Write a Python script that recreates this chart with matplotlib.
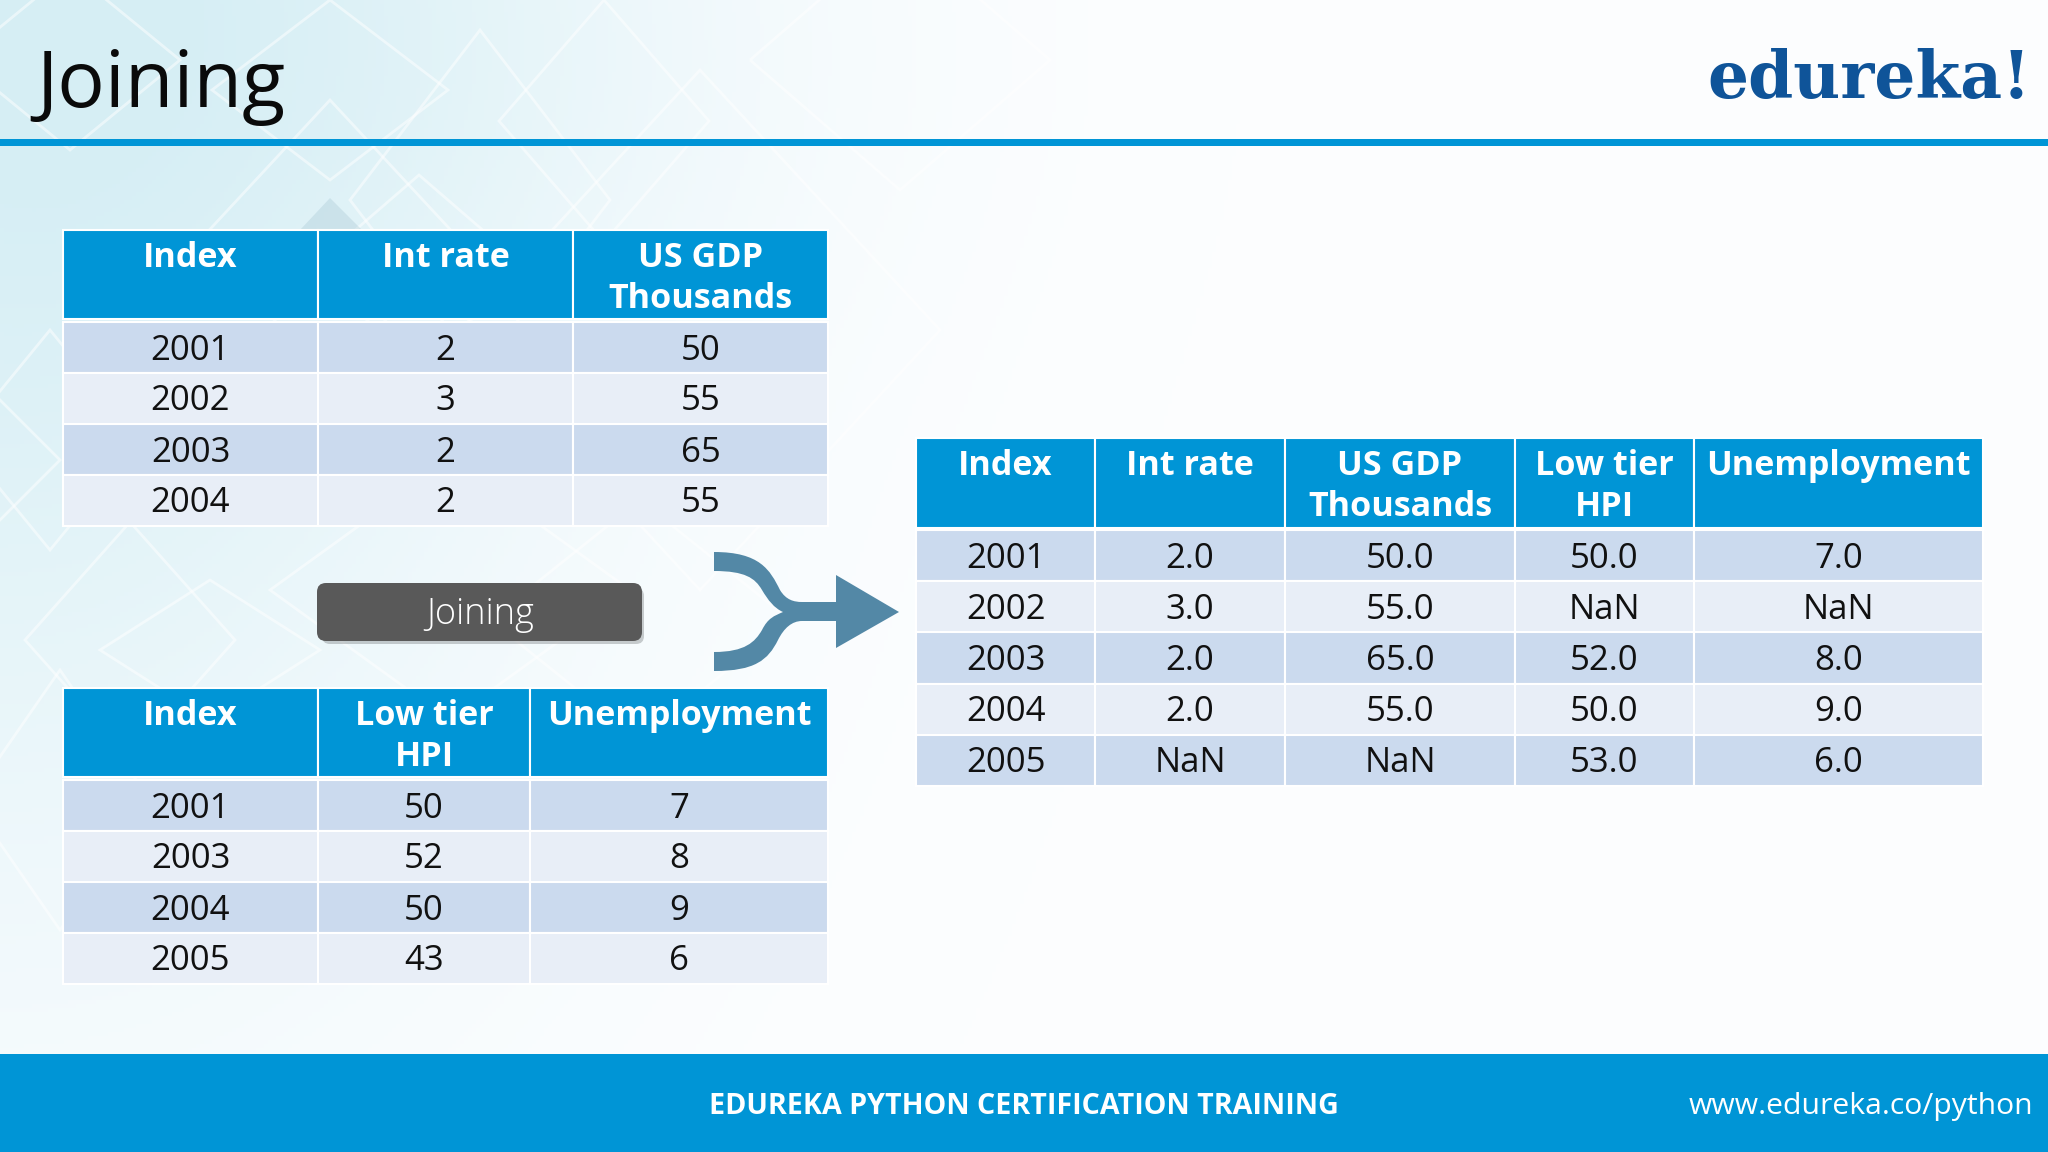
import numpy as np
import matplotlib
matplotlib.use('Agg')
import matplotlib.pyplot as plt
from matplotlib.patches import Rectangle, Polygon, FancyBboxPatch, PathPatch
from matplotlib.path import Path

plt.rcParams['font.family'] = ['Open Sans', 'DejaVu Sans']

# left table
left_cols = ['Index', 'Int rate', 'US GDP\nThousands']
left_index = ['2001', '2002', '2003', '2004']
left_int_rate = ['2', '3', '2', '2']
left_gdp = ['50', '55', '65', '55']

# right table
right_cols = ['Index', 'Low tier\nHPI', 'Unemployment']
right_index = ['2001', '2003', '2004', '2005']
right_hpi = ['50', '52', '50', '43']
right_unemp = ['7', '8', '9', '6']

# joined table
joined_cols = ['Index', 'Int rate', 'US GDP\nThousands', 'Low tier\nHPI', 'Unemployment']
joined_index = ['2001', '2002', '2003', '2004', '2005']
joined_int_rate = ['2.0', '3.0', '2.0', '2.0', 'NaN']
joined_gdp = ['50.0', '55.0', '65.0', '55.0', 'NaN']
joined_hpi = ['50.0', 'NaN', '52.0', '50.0', '53.0']
joined_unemp = ['7.0', 'NaN', '8.0', '9.0', '6.0']

HEADER = '#0095d6'
ROW_A = '#cbdaee'
ROW_B = '#e8eef7'

fig = plt.figure(figsize=(20.48, 11.52), dpi=100)
ax = fig.add_axes([0, 0, 1, 1])
ax.set_xlim(0, 2048)
ax.set_ylim(1152, 0)
ax.axis('off')

# background wash, pale cyan fading out from the top left
yy, xx = np.mgrid[0:1152:4, 0:2048:4]
wash = np.exp(-(xx / 560.0) ** 2 - (yy / 850.0) ** 2) + 0.15 * np.exp(-((xx - 450) / 420.0) ** 2 - ((yy - 60) / 260.0) ** 2)
wash = np.clip(wash, 0, 1)[..., None]
bg = (1 - wash) * np.array([0.99, 0.995, 1.0]) + wash * np.array([0.84, 0.935, 0.96])
ax.imshow(bg, extent=(0, 2048, 1152, 0), aspect='auto', zorder=0)


def diamond(cx, cy, w, h, lw=2.0, alpha=0.5):
    ax.add_patch(Polygon([(cx - w, cy), (cx, cy - h), (cx + w, cy), (cx, cy + h)], closed=True,
                         fill=False, ec='white', lw=lw, alpha=alpha, zorder=1))


for cx, cy, w, h in [(330, 90, 118, 90), (604, 121, 105, 121), (70, 60, 110, 90), (480, 200, 130, 170),
                     (419, 270, 110, 95), (900, 60, 150, 130), (50, 440, 90, 110), (0, 460, 60, 60),
                     (130, 640, 105, 118), (210, 650, 110, 70), (450, 590, 180, 130), (640, 620, 150, 120),
                     (60, 800, 90, 130), (330, 240, 130, 140), (700, 330, 240, 260)]:
    diamond(cx, cy, w, h)
ax.add_patch(Polygon([(300, 230), (330, 198), (362, 230)], closed=True, fc='#9fc0cc', ec='none', alpha=0.3, zorder=1))

ax.add_patch(Rectangle((0, 139), 2048, 7, fc=HEADER, ec='none', zorder=2))
ax.add_patch(Rectangle((0, 1054), 2048, 98, fc=HEADER, ec='none', zorder=2))


def draw_table(edges, top, head_bottom, row_top, row_h, cols, columns):
    n_rows = len(columns[0])
    for c, head in enumerate(cols):
        x0, x1 = edges[c], edges[c + 1]
        ax.add_patch(Rectangle((x0, top), x1 - x0, head_bottom - top, fc=HEADER, ec='white', lw=1.5, zorder=3))
        for k, line in enumerate(head.split('\n')):
            ax.text((x0 + x1) / 2, top + 37 + k * 41, line, color='white', fontsize=24.6, fontweight='bold',
                    ha='center', va='baseline', zorder=5)
        for r in range(n_rows):
            y0 = row_top + r * row_h
            ax.add_patch(Rectangle((x0, y0), x1 - x0, row_h, fc=ROW_A if r % 2 == 0 else ROW_B,
                                   ec='white', lw=1.5, zorder=3))
            ax.text((x0 + x1) / 2, y0 + row_h / 2 + 12, columns[c][r], color='#111111', fontsize=25,
                    ha='center', va='baseline', zorder=5)


draw_table([63, 318, 573, 828], 230, 319, 322, 51, left_cols, [left_index, left_int_rate, left_gdp])
draw_table([63, 318, 530, 828], 688, 777, 780, 51, right_cols, [right_index, right_hpi, right_unemp])
draw_table([916, 1095, 1285, 1515, 1694, 1983], 438, 528, 530, 51.2, joined_cols,
           [joined_index, joined_int_rate, joined_gdp, joined_hpi, joined_unemp])

# Joining button
ax.add_patch(FancyBboxPatch((322, 588), 322, 56, boxstyle='round,pad=0,rounding_size=8', fc='#8a8f92', ec='none', alpha=0.45, zorder=3))
ax.add_patch(FancyBboxPatch((317, 583), 325, 58, boxstyle='round,pad=0,rounding_size=9', fc='#595959', ec='none', zorder=4))
ax.text(480, 624, 'Joining', color='white', fontsize=26, fontweight='light', ha='center', va='baseline', zorder=5)

# merge arrow
verts = [(714, 552), (760, 552), (770, 570), (780, 590), (786, 600), (794, 602), (802, 602),
         (836, 602), (836, 575), (899, 612), (836, 648), (836, 621), (802, 621),
         (792, 621), (784, 628), (778, 640), (768, 660), (755, 671), (714, 671),
         (714, 652), (745, 652), (755, 642), (762, 630), (768, 618), (774, 616), (783, 612),
         (774, 608), (768, 600), (762, 590), (755, 578), (745, 571), (714, 571), (714, 552)]
codes = [Path.MOVETO, Path.CURVE4, Path.CURVE4, Path.CURVE4, Path.CURVE4, Path.CURVE4, Path.CURVE4,
         Path.LINETO, Path.LINETO, Path.LINETO, Path.LINETO, Path.LINETO, Path.LINETO,
         Path.CURVE4, Path.CURVE4, Path.CURVE4, Path.CURVE4, Path.CURVE4, Path.CURVE4,
         Path.LINETO, Path.CURVE4, Path.CURVE4, Path.CURVE4, Path.CURVE4, Path.CURVE4, Path.CURVE4,
         Path.CURVE4, Path.CURVE4, Path.CURVE4, Path.CURVE4, Path.CURVE4, Path.CURVE4, Path.CLOSEPOLY]
ax.add_patch(PathPatch(Path(verts, codes), fc='#5388a6', ec='none', zorder=4))

# titles and logo
ax.text(36, 107, 'Joining', color='#0a0a0a', fontsize=57, fontweight='normal', ha='left', va='baseline', zorder=5)
ax.text(2031, 98, 'edureka!', color='#0f5499', fontsize=46.5, fontweight='bold', family=['DejaVu Serif'],
        ha='right', va='baseline', zorder=5)
ax.text(1024, 1114, 'EDUREKA PYTHON CERTIFICATION TRAINING', color='white', fontsize=20.6, fontweight='bold',
        ha='center', va='baseline', zorder=5)
ax.text(2033, 1114, 'www.edureka.co/python', color='white', fontsize=21.7, ha='right', va='baseline', zorder=5)

plt.savefig('out.png', dpi=100)
plt.close()
